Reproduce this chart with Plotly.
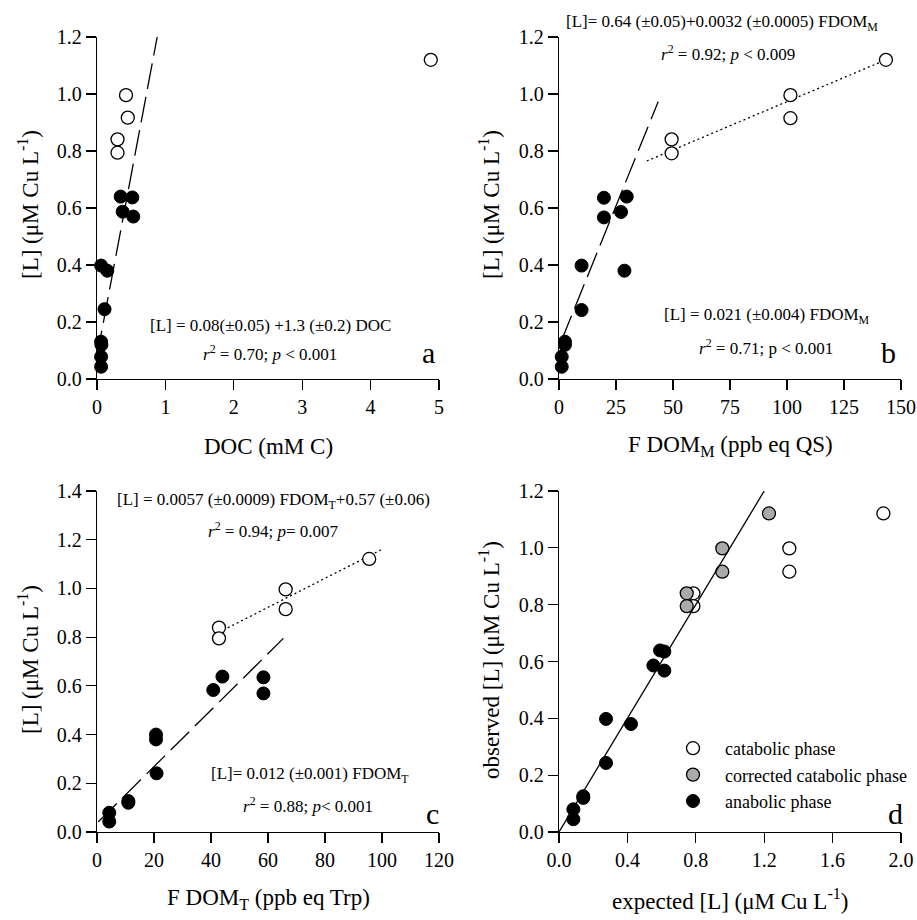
import plotly.graph_objects as go

# ---------------- data ----------------
# Panel a: DOC (mM C) vs [L]
a_ana_x = [0.346, 0.516, 0.375, 0.53, 0.06, 0.15, 0.11, 0.06, 0.065, 0.06, 0.06]
a_ana_y = [0.64, 0.637, 0.587, 0.57, 0.398, 0.38, 0.245, 0.131, 0.12, 0.078, 0.043]
a_cat_x = [4.88, 0.424, 0.45, 0.30, 0.30]
a_cat_y = [1.12, 0.996, 0.917, 0.841, 0.794]
a_fit_x = [0.0, 0.88]
a_fit_y = [0.08, 1.2]

# Panel b: FDOM_M (ppb eq QS) vs [L]
b_ana_x = [19.7, 19.7, 29.7, 27.2, 28.7, 9.9, 9.9, 2.6, 2.6, 1.2, 1.2]
b_ana_y = [0.636, 0.567, 0.64, 0.586, 0.38, 0.398, 0.242, 0.131, 0.12, 0.078, 0.043]
b_cat_x = [143.4, 101.5, 101.5, 49.4, 49.4]
b_cat_y = [1.12, 0.996, 0.915, 0.841, 0.792]
b_fit_ana_x = [1.2, 43.5]
b_fit_ana_y = [0.137, 0.973]
b_fit_cat_x = [38.5, 143.4]
b_fit_cat_y = [0.765, 1.12]

# Panel c: FDOM_T (ppb eq Trp) vs [L]
c_ana_x = [44.0, 40.8, 58.4, 58.4, 20.7, 20.7, 20.9, 11.0, 11.0, 4.3, 4.3]
c_ana_y = [0.638, 0.583, 0.635, 0.569, 0.40, 0.38, 0.241, 0.127, 0.12, 0.079, 0.043]
c_cat_x = [95.5, 66.2, 66.2, 42.8, 42.8]
c_cat_y = [1.121, 0.996, 0.915, 0.839, 0.795]
c_fit_ana_x = [0.46, 65.4]
c_fit_ana_y = [0.042, 0.795]
c_fit_cat_x = [44.3, 99.9]
c_fit_cat_y = [0.829, 1.160]

# Panel d: expected vs observed [L]
d_ana_x = [0.591, 0.616, 0.552, 0.616, 0.275, 0.421, 0.275, 0.142, 0.142, 0.084, 0.084]
d_ana_y = [0.639, 0.635, 0.586, 0.568, 0.398, 0.380, 0.243, 0.126, 0.12, 0.080, 0.045]
d_cat_x = [1.897, 1.347, 1.347, 0.786, 0.786]
d_cat_y = [1.121, 0.998, 0.916, 0.840, 0.795]
d_cor_x = [1.228, 0.955, 0.955, 0.747, 0.747]
d_cor_y = [1.121, 0.998, 0.916, 0.840, 0.795]
d_fit_x = [0.0, 1.2]
d_fit_y = [0.0, 1.2]

legend_names = ["catabolic phase", "corrected catabolic phase", "anabolic phase"]

# ---------------- styling ----------------
FONT = "Liberation Serif, Times New Roman, serif"
W, H = 917, 920
MS = 13

def px(x):
    return x / W

def py(y):
    return 1 - y / H

open_marker = dict(size=MS, color="white", line=dict(color="black", width=1.3))
gray_marker = dict(size=MS, color="#aaaaaa", line=dict(color="black", width=1.3))
black_marker = dict(size=MS, color="black", line=dict(color="black", width=1))

fig = go.Figure()

def add_pts(x, y, xa, ya, marker, name=None, show=False):
    fig.add_trace(go.Scatter(x=x, y=y, xaxis=xa, yaxis=ya, mode="markers",
                             marker=marker, cliponaxis=False, name=name,
                             showlegend=show, legendgroup=name))

def add_line(x, y, xa, ya, dash, width=1.3):
    fig.add_trace(go.Scatter(x=x, y=y, xaxis=xa, yaxis=ya, mode="lines",
                             line=dict(color="black", width=width, dash=dash),
                             showlegend=False, cliponaxis=False))

LONGDASH = "26px,8px"
DOT = "2px,3px"

# a
add_line(a_fit_x, a_fit_y, "x", "y", LONGDASH)
add_pts(a_cat_x, a_cat_y, "x", "y", open_marker)
add_pts(a_ana_x, a_ana_y, "x", "y", black_marker)
# b
add_line(b_fit_ana_x, b_fit_ana_y, "x2", "y2", LONGDASH)
add_line(b_fit_cat_x, b_fit_cat_y, "x2", "y2", DOT)
add_pts(b_cat_x, b_cat_y, "x2", "y2", open_marker)
add_pts(b_ana_x, b_ana_y, "x2", "y2", black_marker)
# c
add_line(c_fit_ana_x, c_fit_ana_y, "x3", "y3", LONGDASH)
add_line(c_fit_cat_x, c_fit_cat_y, "x3", "y3", DOT)
add_pts(c_cat_x, c_cat_y, "x3", "y3", open_marker)
add_pts(c_ana_x, c_ana_y, "x3", "y3", black_marker)
# d
add_pts(d_cat_x, d_cat_y, "x4", "y4", open_marker, legend_names[0], True)
add_pts(d_cor_x, d_cor_y, "x4", "y4", gray_marker, legend_names[1], True)
add_line(d_fit_x, d_fit_y, "x4", "y4", "solid", 1.3)
add_pts(d_ana_x, d_ana_y, "x4", "y4", black_marker, legend_names[2], True)

# axis domains (pixel-derived)
LX = [px(97), px(439)]
RX = [px(559), px(901)]
TY = [py(379), py(37)]
BY = [py(832), py(491)]

TICKFONT = dict(family=FONT, size=20, color="black")

def ax(domain, rng, dtick, anchor, fmt=None):
    d = dict(domain=domain, range=rng, dtick=dtick, tick0=0, anchor=anchor,
             showline=True, linecolor="black", linewidth=1.2,
             ticks="outside", ticklen=10, tickwidth=1.2, tickcolor="black",
             showgrid=False, zeroline=False, tickfont=TICKFONT,
             automargin=False, fixedrange=True)
    if fmt:
        d["tickformat"] = fmt
    return d

fig.update_layout(
    width=W, height=H,
    margin=dict(l=0, r=0, t=0, b=0),
    paper_bgcolor="white", plot_bgcolor="white",
    font=dict(family=FONT, color="black"),
    xaxis=ax(LX, [0, 5], 1, "y"),
    yaxis=ax(TY, [0, 1.2], 0.2, "x", ".1f"),
    xaxis2=ax(RX, [0, 150], 25, "y2"),
    yaxis2=ax(TY, [0, 1.2], 0.2, "x2", ".1f"),
    xaxis3=ax(LX, [0, 120], 20, "y3"),
    yaxis3=ax(BY, [0, 1.4], 0.2, "x3", ".1f"),
    xaxis4=ax(RX, [0, 2.0], 0.4, "y4", ".1f"),
    yaxis4=ax(BY, [0, 1.2], 0.2, "x4", ".1f"),
    showlegend=True,
    legend=dict(x=px(661), y=py(730), xanchor="left", yanchor="top",
                bgcolor="rgba(0,0,0,0)", borderwidth=0,
                font=dict(family=FONT, size=18, color="black"),
                itemwidth=54, tracegroupgap=9, traceorder="normal"),
)

ANN = 17
TITLE = 23
LETTER = 30
ann = []

def text(x, y, s, size, angle=0, xanchor="center"):
    ann.append(dict(x=px(x), y=py(y), xref="paper", yref="paper", text=s,
                    showarrow=False, xanchor=xanchor, yanchor="middle",
                    textangle=angle, font=dict(family=FONT, size=size, color="black")))

ylab = "[L] (μM Cu L<sup>-1</sup>)"
# axis titles
text(268, 446, "DOC (mM C)", TITLE)
text(730, 446, "F DOM<sub>M</sub> (ppb eq QS)", TITLE)
text(268, 899, "F DOM<sub>T</sub> (ppb eq Trp)", TITLE)
text(730, 899, "expected [L] (μM Cu L<sup>-1</sup>)", TITLE)
text(28, 205, ylab, TITLE, -90)
text(489, 205, ylab, TITLE, -90)
text(28, 660, ylab, TITLE, -90)
text(489, 660, "observed [L] (μM Cu L<sup>-1</sup>)", TITLE, -90)

# equations
text(270, 325, "[L] = 0.08(±0.05) +1.3 (±0.2) DOC", ANN)
text(270, 353, "<i>r</i><sup>2</sup> = 0.70; <i>p</i> < 0.001", ANN)
text(722, 23, "[L]= 0.64 (±0.05)+0.0032 (±0.0005) FDOM<sub>M</sub>", ANN)
text(728, 53, "<i>r</i><sup>2</sup> = 0.92; <i>p</i> < 0.009", ANN)
text(767, 316, "[L] = 0.021 (±0.004) FDOM<sub>M</sub>", ANN)
text(766, 347, "<i>r</i><sup>2</sup> = 0.71; p < 0.001", ANN)
text(273, 501, "[L] = 0.0057 (±0.0009) FDOM<sub>T</sub>+0.57 (±0.06)", ANN)
text(273, 530, "<i>r</i><sup>2</sup> = 0.94; <i>p</i>= 0.007", ANN)
text(310, 775, "[L]= 0.012 (±0.001) FDOM<sub>T</sub>", ANN)
text(308, 805, "<i>r</i><sup>2</sup> = 0.88; <i>p</i>< 0.001", ANN)

# panel letters
text(428, 352, "a", LETTER)
text(888, 352, "b", LETTER)
text(432, 813, "c", LETTER)
text(895, 813, "d", LETTER)

fig.update_layout(annotations=ann)
fig.write_html("out.html",
               config={"displayModeBar": False, "staticPlot": True},
               post_script="document.body.style.margin='0px';document.body.style.overflow='hidden';")
